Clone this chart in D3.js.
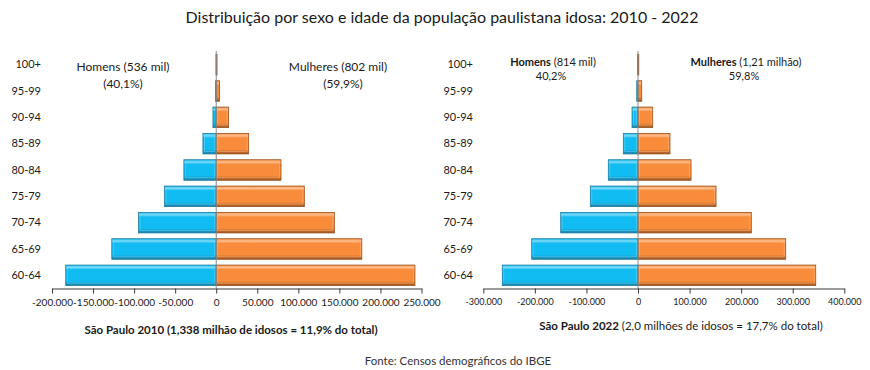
<!DOCTYPE html>
<html>
<head>
<meta charset="utf-8">
<script src="https://cdn.jsdelivr.net/npm/d3@7"></script>
<style>
  body { margin: 0; background: #fff; }
  svg { display: block; font-family: Lato, 'Open Sans', sans-serif; }
</style>
</head>
<body>
<div id="chart"></div>
<script>
// age groups, bottom to top
var ages = ['60-64', '65-69', '70-74', '75-79', '80-84', '85-89', '90-94', '95-99', '100+'];

// 2010 (people)
var men2010   = [183300, 127200, 94600, 62900, 39400, 16200, 4000, 700, 150];
var women2010 = [242000, 177300, 143900, 107300, 78900, 39500, 15100, 4100, 1000];

// 2022 (people)
var men2022   = [263200, 206200, 149900, 92500, 57600, 28500, 11600, 2500, 500];
var women2022 = [344600, 286400, 219700, 151300, 102800, 62000, 28500, 7200, 1500];

var ticks2010 = [-200000, -150000, -100000, -50000, 0, 50000, 100000, 150000, 200000, 250000];
var ticks2022 = [-300000, -200000, -100000, 0, 100000, 200000, 300000, 400000];

var W = 870, H = 370;
var clr = {
	blue:  { base: '#10bcf2', light: '#7ad9f8', dark: '#1a7ea2' },
	orange:{ base: '#f98c3a', light: '#fdbd8c', dark: '#9a521f' },
	text: '#1a1a1a',
	zero: '#8a8a8a',
	axis: '#3a3a3a'
};

var loc = d3.formatLocale({ decimal: ',', thousands: '.', grouping: [3], currency: ['R$', ''], minus: '-' });
var fmt = loc.format(',d');

var svg = d3.select('#chart').append('svg')
	.attr('width', W).attr('height', H);

// gradients for the bevelled bars
var defs = svg.append('defs');
['blue', 'orange'].forEach(function(k) {
	var g = defs.append('linearGradient').attr('id', 'g_' + k)
		.attr('x1', 0).attr('y1', 0).attr('x2', 0).attr('y2', 1);
	g.append('stop').attr('offset', '0%').attr('stop-color', clr[k].base);
	g.append('stop').attr('offset', '12%').attr('stop-color', clr[k].light);
	g.append('stop').attr('offset', '22%').attr('stop-color', clr[k].base);
	g.append('stop').attr('offset', '78%').attr('stop-color', clr[k].base);
	g.append('stop').attr('offset', '100%').attr('stop-color', clr[k].dark);
});

svg.append('text')
	.attr('x', 442).attr('y', 23)
	.attr('text-anchor', 'middle')
	.style('font-size', '16px')
	.style('fill', clr.text)
	.text('Distribuição por sexo e idade da população paulistana idosa: 2010 - 2022');

svg.append('text')
	.attr('x', 458).attr('y', 365)
	.attr('text-anchor', 'middle')
	.style('font-size', '11.5px')
	.style('fill', '#333')
	.text('Fonte: Censos demográficos do IBGE');

function draw_pyramid(p) {
	var x = d3.scaleLinear().domain(p.domain).range(p.xrange);
	var y = d3.scaleBand().domain(ages).range([288.5, 51.5])
		.paddingInner(0.22).paddingOuter(0.11);

	var g = svg.append('g');

	// age labels
	var ya = g.append('g')
		.attr('transform', `translate(${p.labelx},0)`)
		.call(d3.axisLeft(y).tickSize(0).tickPadding(0));
	ya.select('.domain').remove();
	ya.selectAll('text').style('font-size', '11px').style('fill', clr.text)
		.style('font-family', 'Lato, sans-serif');

	function bars(vals, side, key) {
		var rows = ages.map(function(a, i) { return { age: a, v: vals[i] }; });
		var left = function(d) { return side < 0 ? x(-d.v) : x(0); };
		var wid = function(d) { return Math.abs(x(d.v) - x(0)); };
		var bg = g.append('g');
		bg.selectAll('rect.bar').data(rows).enter().append('rect')
			.attr('class', 'bar')
			.attr('x', left)
			.attr('y', function(d) { return y(d.age); })
			.attr('width', wid)
			.attr('height', y.bandwidth())
			.attr('fill', 'url(#g_' + key + ')')
			.attr('stroke', clr[key].dark)
			.attr('stroke-width', 0.8);
		// thin highlight rim
		bg.selectAll('rect.rim').data(rows.filter(function(d) { return wid(d) > 5; })).enter().append('rect')
			.attr('class', 'rim')
			.attr('x', function(d) { return left(d) + 1.5; })
			.attr('y', function(d) { return y(d.age) + 1.5; })
			.attr('width', function(d) { return wid(d) - 3; })
			.attr('height', y.bandwidth() - 4)
			.attr('fill', 'none')
			.attr('stroke', clr[key].light)
			.attr('stroke-opacity', 0.55)
			.attr('stroke-width', 0.8);
	}
	bars(p.men, -1, 'blue');
	bars(p.women, 1, 'orange');

	// zero line
	g.append('line')
		.attr('x1', x(0)).attr('x2', x(0))
		.attr('y1', 51).attr('y2', 288.5)
		.attr('stroke', clr.zero).attr('stroke-width', 1);

	// x axis
	var xa = g.append('g')
		.attr('transform', 'translate(0,288.5)')
		.call(d3.axisBottom(x).tickValues(p.ticks).tickFormat(fmt).tickSize(5).tickSizeOuter(0).tickPadding(5));
	xa.select('.domain').attr('stroke', clr.axis);
	xa.selectAll('.tick line').attr('stroke', clr.axis);
	xa.selectAll('text').style('font-size', p.tickfont).style('fill', clr.text)
		.style('font-family', 'Lato, sans-serif');

	// sex labels
	p.notes.forEach(function(n) {
		var t = g.append('text')
			.attr('x', n.x).attr('y', n.y)
			.attr('text-anchor', 'middle')
			.style('font-size', p.notefont)
			.style('fill', clr.text);
		n.parts.forEach(function(s) {
			t.append('tspan').style('font-weight', s[1] ? 'bold' : 'normal').text(s[0]);
		});
	});

	// caption
	var c = g.append('text')
		.attr('x', p.caption.x).attr('y', p.caption.y)
		.attr('text-anchor', 'middle')
		.style('font-size', '11.5px')
		.style('fill', clr.text);
	p.caption.parts.forEach(function(s) {
		c.append('tspan').style('font-weight', s[1] ? 'bold' : 'normal').text(s[0]);
	});
}

draw_pyramid({
	domain: [-200000, 250000], xrange: [52, 421.5], labelx: 41,
	men: men2010, women: women2010, ticks: ticks2010, tickfont: '10px', notefont: '12px',
	notes: [
		{ x: 123, y: 71, parts: [['Homens (536 mil)', 0]] },
		{ x: 123, y: 88, parts: [['(40,1%)', 0]] },
		{ x: 338, y: 71, parts: [['Mulheres (802 mil)', 0]] },
		{ x: 343, y: 88, parts: [['(59,9%)', 0]] }
	],
	caption: { x: 231, y: 334, parts: [['São Paulo 2010 (1,338 milhão de idosos = 11,9% do total)', 1]] }
});

draw_pyramid({
	domain: [-300000, 400000], xrange: [483.3, 844.3], labelx: 473,
	men: men2022, women: women2022, ticks: ticks2022, tickfont: '9px', notefont: '11px',
	notes: [
		{ x: 553, y: 66, parts: [['Homens', 1], [' (814 mil)', 0]] },
		{ x: 551, y: 80, parts: [['40,2%', 0]] },
		{ x: 746, y: 66, parts: [['Mulheres', 1], [' (1,21 milhão)', 0]] },
		{ x: 744, y: 80, parts: [['59,8%', 0]] }
	],
	caption: { x: 681, y: 330, parts: [['São Paulo 2022', 1], [' (2,0 milhões de idosos = 17,7% do total)', 0]] }
});
</script>
</body>
</html>
